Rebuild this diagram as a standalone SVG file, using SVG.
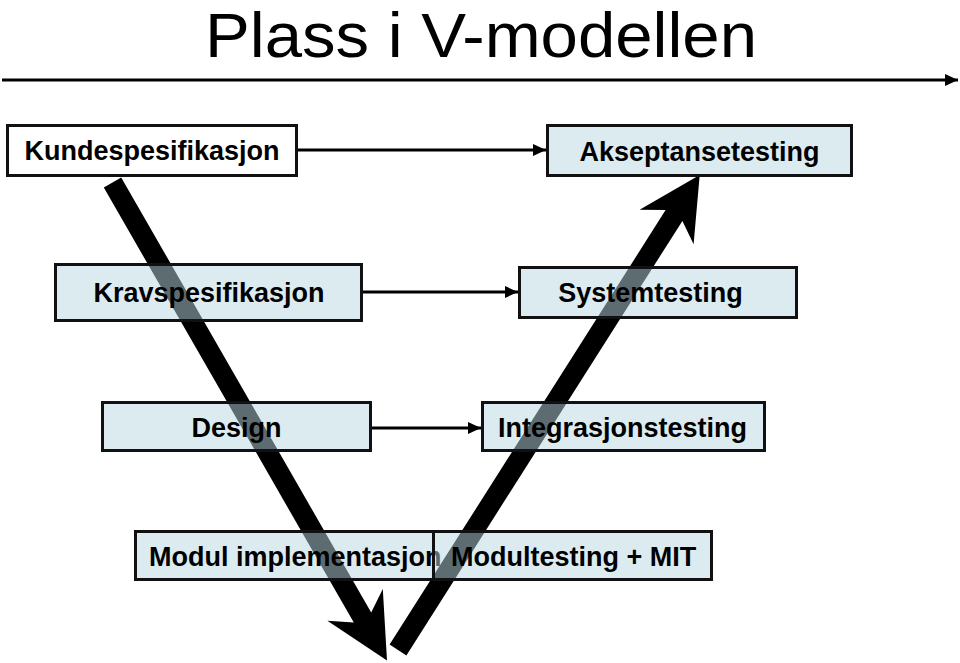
<svg xmlns="http://www.w3.org/2000/svg" width="960" height="663" viewBox="0 0 960 663">
  <defs>
    <marker id="ah" markerUnits="userSpaceOnUse" markerWidth="14" markerHeight="12" refX="13" refY="6" orient="auto">
      <path d="M0,0 L13,6 L0,12 Z" fill="#000"/>
    </marker>
    <style>
      .box { stroke: #111; stroke-width: 3; }
      .blue { fill: #b9d7e1; fill-opacity: 0.5; }
      .white { fill: #fff; }
      .lbl { font-family: "Liberation Sans", Arial, sans-serif; font-weight: bold; font-size: 27px; fill: #000; }
      .conn { stroke: #000; stroke-width: 3; fill: none; }
      .big { fill: #000; }
    </style>
  </defs>
  <rect width="960" height="663" fill="#fff"/>

  <text x="481" y="57" text-anchor="middle" font-family="Liberation Sans, Arial, sans-serif" font-size="63" textLength="552" lengthAdjust="spacingAndGlyphs" fill="#000">Plass i V-modellen</text>

  <g id="connectors">
    <line class="conn" x1="2" y1="80" x2="958" y2="80" marker-end="url(#ah)"/>
    <line class="conn" x1="297" y1="150" x2="546" y2="150" marker-end="url(#ah)"/>
    <line class="conn" x1="362" y1="292" x2="518" y2="292" marker-end="url(#ah)"/>
    <line class="conn" x1="371" y1="428" x2="481" y2="428" marker-end="url(#ah)"/>
    <polygon class="big" points="121.2,177.5 371.2,612.5 382.8,589 387,660.5 327.4,620.8 353.8,622.5 103.8,187.5"/>
    <polygon class="big" points="389.6,644.6 665.6,210.1 639.6,209.8 699.7,175 693.6,244.2 682.4,220.9 406.4,655.4"/>
  </g>

  <g id="kundespesifikasjon">
    <rect class="box white" x="7.5" y="125.5" width="289" height="50"/>
    <text class="lbl" x="152" y="160" text-anchor="middle">Kundespesifikasjon</text>
  </g>
  <g id="akseptansetesting">
    <rect class="box blue" x="547.5" y="125.5" width="304" height="50"/>
    <text class="lbl" x="699.5" y="161" text-anchor="middle">Akseptansetesting</text>
  </g>
  <g id="kravspesifikasjon">
    <rect class="box blue" x="55.5" y="264.5" width="306" height="56"/>
    <text class="lbl" x="209" y="302" text-anchor="middle">Kravspesifikasjon</text>
  </g>
  <g id="systemtesting">
    <rect class="box blue" x="519.5" y="267.5" width="277" height="50"/>
    <text class="lbl" x="650.5" y="302" text-anchor="middle">Systemtesting</text>
  </g>
  <g id="design">
    <rect class="box blue" x="102.5" y="402.5" width="268" height="48"/>
    <text class="lbl" x="236.5" y="437" text-anchor="middle">Design</text>
  </g>
  <g id="integrasjonstesting">
    <rect class="box blue" x="482.5" y="402.5" width="282" height="48"/>
    <text class="lbl" x="622.5" y="437" text-anchor="middle">Integrasjonstesting</text>
  </g>
  <g id="modul-implementasjon">
    <rect class="box blue" x="135.5" y="531.5" width="298" height="48"/>
    <text class="lbl" x="149" y="566">Modul implementasjon</text>
  </g>
  <g id="modultesting">
    <rect class="box blue" x="433.5" y="531.5" width="278" height="48"/>
    <text class="lbl" x="451" y="566">Modultesting + MIT</text>
  </g>
</svg>
